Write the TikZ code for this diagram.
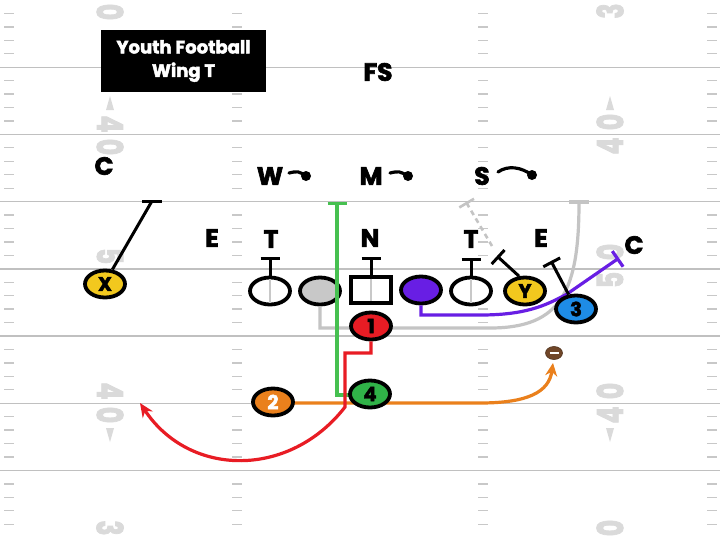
\documentclass[tikz,border=0pt]{standalone}
\usepackage{fontspec}
\setmainfont{Poppins}[BoldFeatures={FakeBold=2.5}]
\usetikzlibrary{shapes.geometric,arrows.meta}
\definecolor{pyel}{RGB}{242,200,30}
\definecolor{pblue}{RGB}{30,140,230}
\definecolor{pred}{RGB}{232,28,36}
\definecolor{pgreen}{RGB}{48,178,72}
\definecolor{porange}{RGB}{234,128,28}
\definecolor{ppurple}{RGB}{104,30,228}
\definecolor{pgray}{RGB}{200,200,200}
\definecolor{rgreen}{RGB}{70,192,80}
\definecolor{rgray}{RGB}{196,196,196}
\definecolor{fline}{RGB}{192,192,192}
\definecolor{fhash}{RGB}{200,200,200}
\definecolor{fnumc}{RGB}{218,218,218}
\definecolor{ballc}{RGB}{112,70,40}
\newcommand\lbf{\bfseries\fontsize{25}{26}\selectfont}
\newcommand\pnf{\bfseries\fontsize{19.5}{20}\selectfont}
\newcommand\fnf{\bfseries\fontsize{36}{36}\selectfont}
\newcommand\fdig[1]{\scalebox{0.7}[1]{#1}}
\begin{document}
\begin{tikzpicture}[x=1pt,y=-1pt,
  lab/.style={font=\lbf, inner sep=0pt, text=black},
  pl/.style={ellipse, draw=black, line width=3.8pt, minimum width=40pt, minimum height=27pt, inner sep=0pt, font=\pnf},
  blk/.style={line width=3pt, draw=black, -{Bar[width=19pt,line width=3pt]}},
  route/.style={line width=3.2pt},
  fl/.style={draw=fline, line width=1.4pt},
  fh/.style={draw=fhash, line width=1.3pt},
  fnum/.style={text=fnumc, font=\fnf, inner sep=0pt},
  inl/.style={draw=pgray, line width=2.4pt},
  lbdot/.style={line width=3.2pt, draw=black, line cap=round}
]
\useasboundingbox (0,0) rectangle (720,539);
\fill[white] (0,0) rectangle (720,539);
\begin{scope}
\clip (0,0) rectangle (720,539);
% yard lines
\foreach \k in {1,...,7} \draw[fl] (0,{67.2*\k}) -- (720,{67.2*\k});
% hash marks
\foreach \k in {0,...,7} \foreach \j in {1,...,4} \foreach \hx in {4,232,478,707}
  \draw[fh] (\hx,{67.2*\k+13.44*\j}) -- ++(10,0);
% yard numbers left (read top to bottom)
\foreach \yy/\dd in {-10/3,12/0,124/4,147/0,256/5,281/0,391/4,415/0,528/3,551/0}
  \node[fnum,rotate=-90] at (110,\yy) {\fdig{\dd}};
% yard numbers right (read bottom to top)
\foreach \yy/\dd in {11/3,-12/0,122/0,146/4,252/0,280/5,391/0,415/4,528/0,551/3}
  \node[fnum,rotate=90] at (610,\yy) {\fdig{\dd}};
\fill[fnumc] (106,110) -- (110,96) -- (114,110) -- cycle;
\fill[fnumc] (606,110) -- (610,96) -- (614,110) -- cycle;
\fill[fnumc] (106,428) -- (110,442) -- (114,428) -- cycle;
\fill[fnumc] (606,428) -- (610,442) -- (614,428) -- cycle;
\end{scope}

% title
\node[fill=black, minimum width=165pt, minimum height=62pt, text=white, align=center,
  font=\bfseries\fontsize{18}{23.5}\selectfont, inner sep=0pt] (title) at (183.5,61) {Youth Football\\Wing T};

% linemen
\node[pl, fill=white] (lt) at (270,291) {};
\node[pl, fill=pgray] (lg) at (320,291) {};
\node[rectangle, draw=black, line width=3.8pt, fill=white, minimum width=40pt, minimum height=26pt, inner sep=0pt] (ctr) at (371,290) {};
\node[pl, fill=ppurple] (lp) at (421,290) {};
\node[pl, fill=white] (rt) at (471,291) {};

% coordinates for free ends
\coordinate (grtop) at (337,202);
\coordinate (redtip) at (140,403);
\coordinate (oratip) at (553,363);
\coordinate (graytip) at (579,202);
\coordinate (purtip) at (619,258);
\coordinate (dstart) at (492,246);
\coordinate (dend) at (466,202);
\coordinate (xb) at (152,201);
\coordinate (yb) at (497,256);
\coordinate (tb) at (551,261);

% ball
\node[ellipse, fill=ballc, draw=ballc!70!black, line width=0.6pt, minimum width=17pt, minimum height=13pt, inner sep=0pt] (ball) at (554,353) {};
\draw[white, line width=2.2pt] ([xshift=-4.5pt]ball.center) -- ([xshift=4.5pt]ball.center);

% routes behind the backs
\node[pl, draw=none, minimum width=0pt, minimum height=0pt] (b2p) at (273,403) {};
\draw[route, draw=porange, -{Stealth[length=13pt,width=12pt]}] (b2p) -- (480,403) .. controls (528,403) and (549,392) .. (oratip);
\draw[route, draw=rgray] (lg.south) -- (320,328) -- (490,328) .. controls (562,328) and (579,290) .. (graytip);
\draw[rgray, line width=3.2pt] ([xshift=-10pt]graytip) -- ([xshift=10pt]graytip);
\draw[route, draw=ppurple, -{Bar[width=19pt,line width=3.2pt]}] (lp.south) -- (421,315) -- (480,315) .. controls (525,315) and (545,306) .. (567,294) -- (purtip);
\draw[route, draw=rgray, dash pattern=on 5pt off 4pt, line width=2.6pt, -{Bar[width=17pt,line width=2.6pt]}] (dstart) -- (dend);

% inline marks inside linemen
\draw[inl] ([yshift=-3.5pt]lt.north) -- ([yshift=3.5pt]lt.south);
\draw[inl] ([yshift=-3.5pt]ctr.north) -- ([yshift=3.5pt]ctr.south);
\draw[inl] ([yshift=-3.5pt]rt.north) -- ([yshift=3.5pt]rt.south);

% skill players
\node[pl, fill=pyel] (xx) at (105,284) {X};
\node[pl, fill=pyel] (yy) at (525,291) {Y};
\node[pl, fill=pred] (b1) at (371,326) {1};
\node[pl, fill=porange, text=white] (b2) at (273,402) {2};

% green and red routes
\draw[route, draw=rgreen, -{Bar[width=19pt,line width=3.2pt]}] (370,395) -| (grtop);
\draw[route, draw=pred, -{Stealth[length=14pt,width=12pt]}] (b1.south) -- (371,353) -- (345,353) -- (345,407) .. controls (290,478) and (190,478) .. (redtip);
\node[pl, fill=pgreen] (b4) at (370,394) {4};
\node[pl, fill=pblue] (b3) at (576,309) {3};

% blocks
\draw[blk] (lt.north) -- (270,257);
\draw[blk] (ctr.north) -- (371,257);
\draw[blk] (rt.north) -- (471,258);
\draw[blk] (yy.112) -- (yb);
\draw[blk] (b3.117) -- (tb);
\draw[line width=3pt] (xx.63) -- (xb);
\draw[line width=3pt] ([xshift=-10pt]xb) -- ([xshift=10pt]xb);

% defense labels
\node[lab] (fs) at (378,72) {FS};
\node[lab] (lw) at (270,176) {W};
\node[lab] (lm) at (371,176) {M};
\node[lab] (ls) at (482,176) {S};
\node[lab] (le) at (212,238) {E};
\node[lab] (ltt) at (271,239) {T};
\node[lab] (ln) at (370,238) {N};
\node[lab] (rtt) at (471,239) {T};
\node[lab] (re) at (541,238) {E};
\node[lab] (rc) at (634,245) {C};
\node[lab] (lc) at (104,166) {C};

\coordinate (wd) at (306,176);
\coordinate (md) at (408,176);
\coordinate (sd) at (532,175);
\draw[lbdot] (289,173) .. controls (298,171) .. (wd);
\draw[lbdot] (390,173) .. controls (399,171) .. (md);
\draw[lbdot] (498,172) .. controls (508,165) and (521,167) .. (sd);
\fill (wd) circle (5pt);
\fill (md) circle (5pt);
\fill (sd) circle (5pt);
\end{tikzpicture}
\end{document}
